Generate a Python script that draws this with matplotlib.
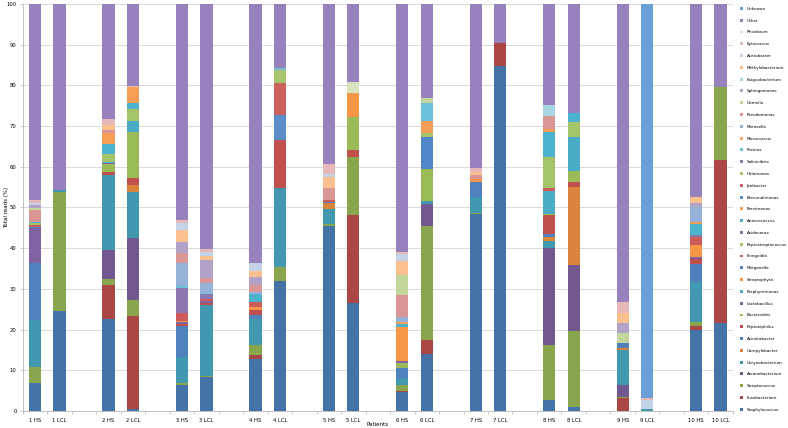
import matplotlib
matplotlib.use('Agg')
import matplotlib.pyplot as plt
from matplotlib.patches import Patch
import numpy as np

genera = ['Staphylococcus', 'Fusobacterium', 'Streptococcus', 'Arcanobacterium',
          'Corynebacterium', 'Campylobacter', 'Acinetobacter', 'Peptoniphilus',
          'Bacteroides', 'Lactobacillus', 'Porphyromonas', 'Streptophyta',
          'Morganella', 'Finegoldia', 'Peptostreptococcus', 'Acidovorax',
          'Anaerococcus', 'Parvimonas', 'Brevundimonas', 'Janibacter',
          'Halomonas', 'Salinivibrio', 'Proteus', 'Micrococcus', 'Moraxella',
          'Pseudomonas', 'Gemella', 'Sphingomonas', 'Exiguobacterium',
          'Methylobacterium', 'Acetobacter', 'Kytococcus', 'Rhizobium',
          'Other', 'Unknown']

colors = ['#4572A7', '#AA4643', '#89A54E', '#71588F', '#4198AF', '#DB843D',
          '#4F81BD', '#C0504D', '#9BBB59', '#8064A2', '#4BACC6', '#F79646',
          '#5086C8', '#CD5C5A', '#A5C46A', '#8A72AA', '#4BB3CE', '#F79E56',
          '#5B8FCB', '#CC605C', '#A8C46F', '#8E78B0', '#6CC2D8', '#F9A766',
          '#95B3D7', '#D99694', '#C3D69B', '#B3A2C7', '#A9D6E3', '#FAC090',
          '#C5D3E8', '#E6B9B8', '#D7E4BD', '#9882BE', '#6A9FD8']

samples = ['1 HS', '1 LCL', '2 HS', '2 LCL', '3 HS', '3 LCL', '4 HS', '4 LCL',
           '5 HS', '5 LCL', '6 HS', '6 LCL', '7 HS', '7 LCL', '8 HS', '8 LCL',
           '9 HS', '9 LCL', '10 HS', '10 LCL']

# % of total reads per genus
p1_hs = {'Staphylococcus': 6.9, 'Streptococcus': 3.9, 'Corynebacterium': 11.6,
         'Acinetobacter': 14.0, 'Lactobacillus': 8.6, 'Morganella': 0.3,
         'Finegoldia': 0.5, 'Peptostreptococcus': 0.3, 'Anaerococcus': 0.4,
         'Pseudomonas': 3.0, 'Gemella': 0.4, 'Sphingomonas': 0.7,
         'Acetobacter': 0.6, 'Kytococcus': 0.6, 'Other': 48.2}
p1_lcl = {'Staphylococcus': 24.5, 'Streptococcus': 29.4, 'Corynebacterium': 0.4,
          'Other': 45.7}
p2_hs = {'Staphylococcus': 22.5, 'Fusobacterium': 8.5, 'Streptococcus': 1.4,
         'Arcanobacterium': 7.2, 'Corynebacterium': 18.4, 'Peptoniphilus': 0.6,
         'Bacteroides': 2.0, 'Lactobacillus': 0.3, 'Porphyromonas': 0.4,
         'Peptostreptococcus': 1.9, 'Anaerococcus': 2.4, 'Parvimonas': 2.7,
         'Pseudomonas': 0.8, 'Methylobacterium': 1.2, 'Kytococcus': 1.5,
         'Other': 28.2}
p2_lcl = {'Staphylococcus': 0.5, 'Fusobacterium': 22.9, 'Streptococcus': 3.9,
          'Arcanobacterium': 15.3, 'Corynebacterium': 11.3, 'Campylobacter': 1.6,
          'Peptoniphilus': 1.7, 'Bacteroides': 11.4, 'Porphyromonas': 2.7,
          'Peptostreptococcus': 2.8, 'Anaerococcus': 1.5, 'Parvimonas': 3.9,
          'Kytococcus': 0.3, 'Other': 20.2}
p3_hs = {'Staphylococcus': 6.4, 'Streptococcus': 0.4, 'Corynebacterium': 6.5,
         'Acinetobacter': 7.6, 'Peptoniphilus': 0.5, 'Lactobacillus': 0.4,
         'Streptophyta': 0.4, 'Finegoldia': 1.8, 'Salinivibrio': 6.1,
         'Proteus': 0.6, 'Moraxella': 5.7, 'Pseudomonas': 2.3,
         'Sphingomonas': 2.9, 'Methylobacterium': 2.9, 'Acetobacter': 1.6,
         'Kytococcus': 0.8, 'Other': 53.1}
p3_lcl = {'Staphylococcus': 8.3, 'Streptococcus': 0.3, 'Corynebacterium': 17.4,
          'Peptoniphilus': 0.6, 'Lactobacillus': 0.5, 'Finegoldia': 0.4,
          'Salinivibrio': 1.3, 'Proteus': 0.3, 'Moraxella': 2.3,
          'Pseudomonas': 1.4, 'Sphingomonas': 4.3, 'Methylobacterium': 1.0,
          'Acetobacter': 1.0, 'Kytococcus': 0.7, 'Other': 60.2}
p4_hs = {'Staphylococcus': 12.7, 'Fusobacterium': 1.1, 'Streptococcus': 2.4,
         'Corynebacterium': 6.3, 'Acinetobacter': 1.1, 'Peptoniphilus': 1.2,
         'Streptophyta': 0.8, 'Finegoldia': 1.3, 'Anaerococcus': 1.8,
         'Moraxella': 0.6, 'Pseudomonas': 1.7, 'Sphingomonas': 1.9,
         'Methylobacterium': 1.6, 'Acetobacter': 1.8, 'Other': 63.7}
p4_lcl = {'Staphylococcus': 31.9, 'Streptococcus': 3.6, 'Corynebacterium': 19.4,
          'Peptoniphilus': 11.7, 'Brevundimonas': 6.1, 'Janibacter': 7.8,
          'Halomonas': 3.3, 'Proteus': 0.4, 'Other': 15.8}
p5_hs = {'Staphylococcus': 45.5, 'Streptococcus': 0.4, 'Corynebacterium': 3.8,
         'Campylobacter': 1.4, 'Acinetobacter': 0.3, 'Finegoldia': 0.5,
         'Pseudomonas': 3.0, 'Methylobacterium': 2.7, 'Acetobacter': 0.6,
         'Kytococcus': 2.5, 'Other': 39.3}
p5_lcl = {'Staphylococcus': 26.5, 'Fusobacterium': 21.7, 'Streptococcus': 14.1,
          'Peptoniphilus': 1.8, 'Bacteroides': 8.2, 'Streptophyta': 5.8,
          'Rhizobium': 2.8, 'Other': 19.1}
p6_hs = {'Staphylococcus': 4.7, 'Fusobacterium': 0.3, 'Streptococcus': 1.4,
         'Corynebacterium': 1.6, 'Acinetobacter': 2.5, 'Bacteroides': 1.2,
         'Lactobacillus': 0.5, 'Streptophyta': 8.5, 'Anaerococcus': 0.6,
         'Parvimonas': 0.6, 'Moraxella': 1.3, 'Pseudomonas': 5.3,
         'Gemella': 4.9, 'Methylobacterium': 3.5, 'Acetobacter': 1.6,
         'Kytococcus': 0.6, 'Other': 60.9}
p6_lcl = {'Staphylococcus': 14.0, 'Fusobacterium': 3.4, 'Streptococcus': 28.1,
          'Arcanobacterium': 5.4, 'Corynebacterium': 0.6, 'Bacteroides': 7.9,
          'Morganella': 8.0, 'Peptostreptococcus': 1.0, 'Parvimonas': 2.9,
          'Proteus': 4.3, 'Gemella': 1.2, 'Other': 23.2}
p7_hs = {'Staphylococcus': 48.3, 'Streptococcus': 0.4, 'Corynebacterium': 4.0,
         'Acinetobacter': 3.6, 'Streptophyta': 0.7, 'Pseudomonas': 0.9,
         'Methylobacterium': 0.9, 'Kytococcus': 1.0, 'Other': 40.2}
p7_lcl = {'Staphylococcus': 84.8, 'Fusobacterium': 5.5, 'Other': 9.7}
p8_hs = {'Staphylococcus': 2.7, 'Streptococcus': 13.5, 'Arcanobacterium': 23.8,
         'Corynebacterium': 1.8, 'Campylobacter': 0.9, 'Acinetobacter': 0.7,
         'Peptoniphilus': 4.8, 'Bacteroides': 0.3, 'Porphyromonas': 5.6,
         'Finegoldia': 0.6, 'Peptostreptococcus': 7.8, 'Anaerococcus': 6.1,
         'Parvimonas': 0.6, 'Pseudomonas': 3.3, 'Exiguobacterium': 2.7,
         'Other': 24.8}
p8_lcl = {'Staphylococcus': 0.9, 'Streptococcus': 18.8, 'Arcanobacterium': 16.2,
          'Campylobacter': 19.1, 'Peptoniphilus': 1.3, 'Bacteroides': 2.7,
          'Porphyromonas': 8.4, 'Peptostreptococcus': 3.7, 'Anaerococcus': 2.0,
          'Other': 26.9}
p9_hs = {'Fusobacterium': 3.1, 'Streptococcus': 0.4, 'Arcanobacterium': 2.9,
         'Corynebacterium': 8.6, 'Campylobacter': 0.4, 'Acinetobacter': 1.2,
         'Gemella': 2.6, 'Sphingomonas': 2.3, 'Methylobacterium': 2.7,
         'Kytococcus': 2.7, 'Other': 73.1}
p9_lcl = {'Corynebacterium': 0.4, 'Acetobacter': 2.3, 'Kytococcus': 0.5,
          'Unknown': 96.8}
p10_hs = {'Staphylococcus': 19.9, 'Fusobacterium': 1.0, 'Streptococcus': 1.0,
          'Corynebacterium': 9.9, 'Acinetobacter': 4.3, 'Peptoniphilus': 1.2,
          'Lactobacillus': 0.5, 'Streptophyta': 3.0, 'Finegoldia': 2.0,
          'Acidovorax': 0.4, 'Anaerococcus': 2.7, 'Parvimonas': 0.6,
          'Moraxella': 3.7, 'Sphingomonas': 1.0, 'Methylobacterium': 1.5,
          'Other': 47.3}
p10_lcl = {'Staphylococcus': 21.7, 'Fusobacterium': 40.0, 'Streptococcus': 17.8,
           'Other': 20.5}

bars = [p1_hs, p1_lcl, p2_hs, p2_lcl, p3_hs, p3_lcl, p4_hs, p4_lcl,
        p5_hs, p5_lcl, p6_hs, p6_lcl, p7_hs, p7_lcl, p8_hs, p8_lcl,
        p9_hs, p9_lcl, p10_hs, p10_lcl]

# pairs of bars with an empty slot between patients
x = np.array([3 * (i // 2) + (i % 2) for i in range(len(samples))])

fig = plt.figure(figsize=(7.88, 4.28), dpi=100)
ax = fig.add_axes([0.029, 0.0397, 0.901, 0.951])

bottom = np.zeros(len(samples))
for g, c in zip(genera, colors):
    vals = np.array([b.get(g, 0.0) for b in bars])
    ax.bar(x, vals, 0.5, bottom=bottom, color=c, linewidth=0, zorder=3)
    bottom += vals

ax.set_xlim(-0.5, 28.5)
ax.set_ylim(0, 100)
ax.set_yticks(range(0, 101, 10))
ax.yaxis.grid(True, color='#d9d9d9', linewidth=0.7, zorder=0)
ax.set_xticks(x)
ax.set_xticklabels(samples, fontsize=3.8)
ax.set_xticks(np.arange(-0.5, 29, 1), minor=True)
ax.tick_params(axis='x', which='major', length=0, pad=5)
ax.tick_params(axis='x', which='minor', length=2.5, color='#bfbfbf', width=0.6)
ax.tick_params(axis='y', labelsize=3.8, length=2.5, color='#bfbfbf', width=0.6, pad=2)
for s in ['top', 'right']:
    ax.spines[s].set_visible(False)
for s in ['left', 'bottom']:
    ax.spines[s].set_color('#bfbfbf')
    ax.spines[s].set_linewidth(0.7)
ax.set_ylabel('Total reads (%)', fontsize=4)
ax.yaxis.set_label_coords(-0.02, 0.5)
ax.set_xlabel('Patients', fontsize=4)
ax.xaxis.set_label_coords(0.5, -0.026)

handles = [Patch(facecolor=c, edgecolor='none') for c in colors]
leg = fig.legend(handles[::-1], genera[::-1], loc='upper left',
                 bbox_to_anchor=(0.939, 0.984), frameon=False, fontsize=3.0,
                 handlelength=0.7, handleheight=0.7, handletextpad=0.9,
                 labelspacing=1.87, borderaxespad=0, borderpad=0)

fig.savefig('out.png', dpi=100)
